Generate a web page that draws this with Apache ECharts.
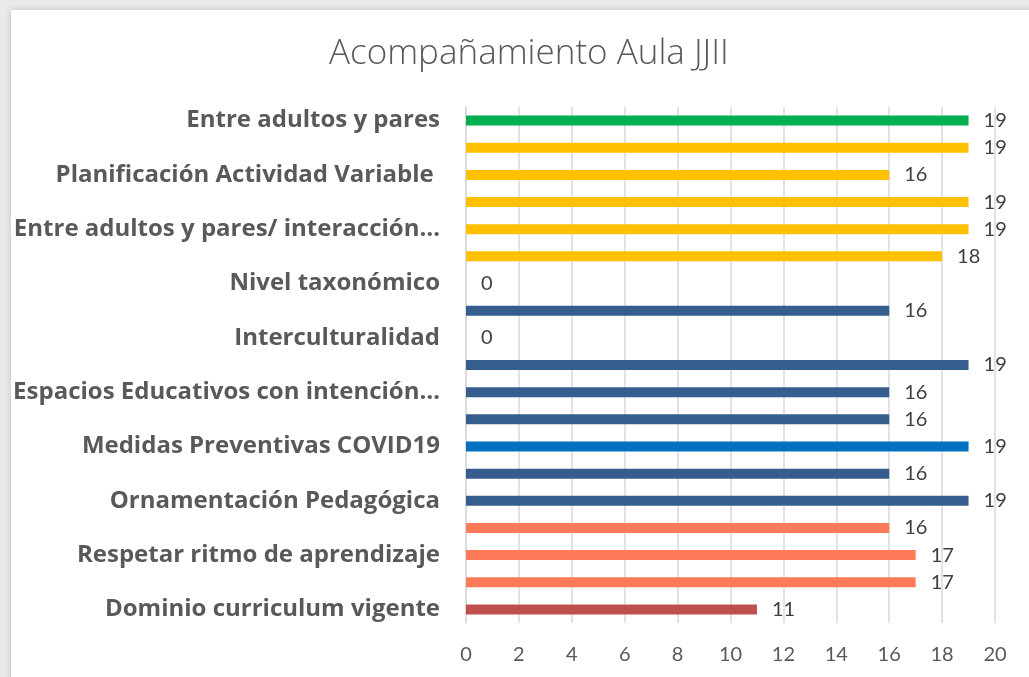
<!DOCTYPE html>
<html>
<head>
<meta charset="utf-8">
<script src="https://cdn.jsdelivr.net/npm/echarts@6/dist/echarts.min.js"></script>
<style>html,body{margin:0;padding:0;background:#fff;}#c{width:1029px;height:677px;}</style>
</head>
<body>
<div id="c"></div>
<script>
const categories = [
  "Entre adultos y pares", "Cat 2",
  "Planificación Actividad Variable ", "Cat 4",
  "Entre adultos y pares/ interacción…", "Cat 6",
  "Nivel taxonómico", "Cat 8",
  "Interculturalidad", "Cat 10",
  "Espacios Educativos con intención…", "Cat 12",
  "Medidas Preventivas COVID19", "Cat 14",
  "Ornamentación Pedagógica", "Cat 16",
  "Respetar ritmo de aprendizaje", "Cat 18",
  "Dominio curriculum vigente"
];
const values = [19, 19, 16, 19, 19, 18, 0, 16, 0, 19, 16, 16, 19, 16, 19, 16, 17, 17, 11];
const barColors = [
  "#00B050", "#FFC000", "#FFC000", "#FFC000", "#FFC000", "#FFC000",
  "#355E8E", "#355E8E", "#355E8E", "#355E8E", "#355E8E", "#355E8E",
  "#0070C0", "#355E8E", "#355E8E",
  "#FF7A59", "#FF7A59", "#FF7A59", "#C0504D"
];
const xTicks = { min: 0, max: 20, interval: 2 };
const titleText = "Acompañamiento Aula JJII";

const chart = echarts.init(document.getElementById('c'), null, { renderer: 'canvas' });
chart.setOption({
  backgroundColor: '#e9e9e9',
  animation: false,
  graphic: [{
    type: 'rect', z: -10, silent: true,
    shape: { x: 11, y: 10, width: 1030, height: 680 },
    style: { fill: '#ffffff', shadowBlur: 6, shadowColor: 'rgba(0,0,0,0.18)', shadowOffsetX: 0, shadowOffsetY: 0 }
  }],
  title: {
    text: titleText, left: 324, top: 32,
    textStyle: { fontFamily: 'Open Sans', fontWeight: 300, fontSize: 35, color: '#595959' }
  },
  grid: { left: 466, right: 34, top: 107, bottom: 54, containLabel: false },
  xAxis: {
    type: 'value', min: xTicks.min, max: xTicks.max, interval: xTicks.interval,
    axisLine: { show: false }, axisTick: { show: false },
    splitLine: { show: true, lineStyle: { color: '#d9d9d9', width: 1.5 } },
    axisLabel: { fontFamily: 'Lato', fontSize: 20, color: '#595959', margin: 22 }
  },
  yAxis: {
    type: 'category', inverse: true, data: categories,
    axisLine: { show: true, lineStyle: { color: '#d9d9d9', width: 1.5 } },
    axisTick: { show: false },
    axisLabel: { interval: 1, fontFamily: 'Open Sans', fontWeight: 'bold', fontSize: 24, color: '#595959', margin: 26 }
  },
  series: [{
    type: 'bar', barWidth: 10,
    data: values.map((v, i) => ({ value: v, itemStyle: { color: barColors[i] } })),
    label: { show: true, position: 'right', distance: 15, fontFamily: 'Lato', fontSize: 20, color: '#404040' }
  }]
});
</script>
</body>
</html>
